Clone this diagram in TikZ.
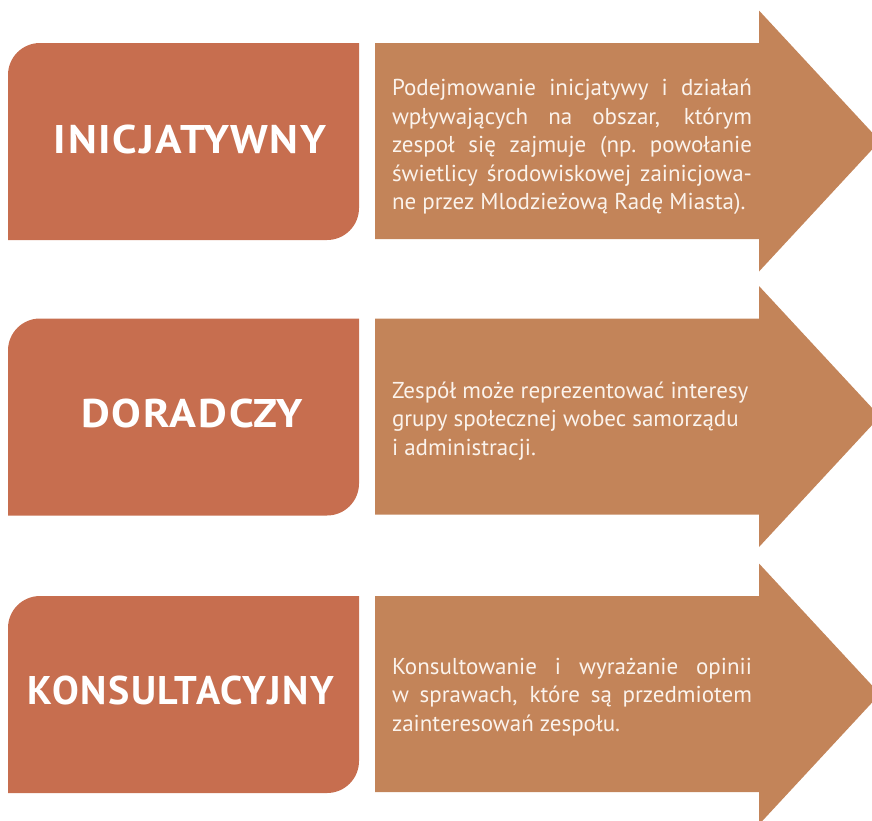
\documentclass[tikz,border=0pt]{standalone}
\usepackage{graphicx}
\usepackage{fontspec}
\setmainfont{PT Sans}
\setsansfont{PT Sans}
\newfontfamily\titlefont[LetterSpace=4]{PT Sans Bold}

\definecolor{boxfill}{HTML}{C76E4F}
\definecolor{arrowfill}{HTML}{C38459}
\definecolor{bodytext}{HTML}{FBF3EC}

% one justified line of the description text: spaces stretch to fill 360pt
\newcommand{\jline}[1]{\hbox to 360pt{\spaceskip=.22em plus 1fil\xspaceskip=.22em plus 1fil\relax #1}}
% one line set at its natural width, flush left
\newcommand{\nline}[1]{\hbox to 360pt{#1\hfil}}
% a stack of such lines
\newcommand{\lines}[1]{\vbox{\baselineskip=28.5pt\relax #1}}

\tikzset{
  label box/.style={fill=boxfill},
  label arrow/.style={fill=arrowfill},
  title/.style={text=white, font=\titlefont\fontsize{40}{44}\selectfont, inner sep=0pt},
  body/.style={text=bodytext, font=\fontsize{23}{28.5}\selectfont, inner sep=0pt},
}

% rounded rectangle: top-left and bottom-right corners rounded
\newcommand{\labelbox}[1]{%
  \fill[label box] (8,#1+197) -- (8,#1+32)
    .. controls (8,#1+14.3) and (22.3,#1) .. (40,#1)
    -- (359,#1) -- (359,#1+165)
    .. controls (359,#1+182.7) and (344.7,#1+197) .. (327,#1+197) -- cycle;}

% wide arrow pointing to the right
\newcommand{\labelarrow}[1]{%
  \fill[label arrow] (375,#1) -- (759,#1) -- (759,#1-32.5) -- (880,#1+98)
    -- (759,#1+228.5) -- (759,#1+196) -- (375,#1+196) -- cycle;}

\begin{document}
\begin{tikzpicture}[x=1pt,y=-1pt]
  \useasboundingbox (0,0) rectangle (872,820);
  \clip (0,0) rectangle (872,820);

  % row 1
  \labelbox{43}
  \labelarrow{43}
  \node[title] (t1) at (190,139) {\scalebox{1.095}[1]{INICJATYWNY}};
  \node[body] (d1) at (572,147) {\lines{%
    \jline{Podejmowanie inicjatywy i działań}
    \jline{wpływających na obszar, którym}
    \jline{zespoł się zajmuje (np. powołanie}
    \jline{świetlicy środowiskowej zainicjowa-}
    \nline{ne przez Mlodzieżową Radę Miasta).}}};

  % row 2
  \labelbox{318.5}
  \labelarrow{318.5}
  \node[title] (t2) at (192,413) {\scalebox{1.11}[1]{DORADCZY}};
  \node[body] (d2) at (572,421) {\lines{%
    \nline{Zespół może reprezentować interesy}
    \nline{grupy społecznej wobec samorządu}
    \nline{i administracji.}}};

  % row 3
  \labelbox{596}
  \labelarrow{596}
  \node[title] (t3) at (181,690) {KONSULTACYJNY};
  \node[body] (d3) at (572,697) {\lines{%
    \jline{Konsultowanie i wyrażanie opinii}
    \jline{w sprawach, które są przedmiotem}
    \nline{zainteresowań zespołu.}}};
\end{tikzpicture}
\end{document}
